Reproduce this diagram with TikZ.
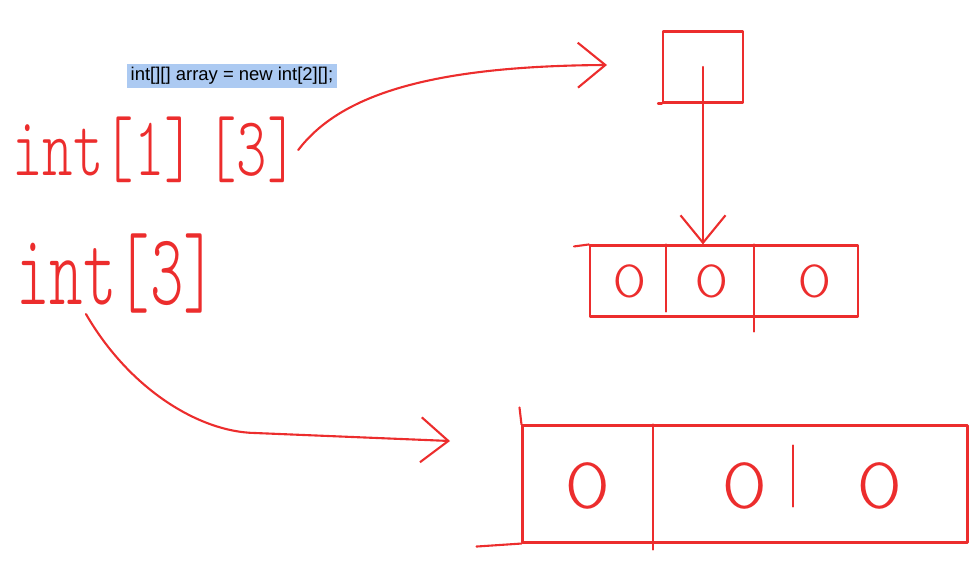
\documentclass[tikz,border=0pt]{standalone}
\usepackage{fontspec}
\usepackage{graphicx}
\usepackage{tikz}
\usetikzlibrary{positioning,calc,arrows.meta}
\newfontfamily\codefont{Liberation Sans}
\newfontfamily\penfont{Latin Modern Mono Light}
\definecolor{penred}{RGB}{236,45,45}
\definecolor{selblue}{RGB}{172,202,242}

\begin{document}
\begin{tikzpicture}[
    x=0.02cm, y=-0.02cm,
    pen/.style={draw=penred, line width=1.2pt, line cap=round, line join=round},
    barb/.style={pen, -{Straight Barb[length=0.55cm, width=0.9cm, line width=1.2pt]}},
    hand/.style={text=penred, inner sep=0pt, anchor=west, font=\penfont\fontsize{33}{33}\selectfont},
    digit/.style={text=penred, inner sep=0pt, font=\penfont\fontsize{#1}{#1}\selectfont}
]
    \useasboundingbox (0,0) rectangle (975,571);

    % code line
    \node [fill=selblue, minimum width=4.2cm, minimum height=0.48cm, inner sep=0pt,
           font=\codefont\fontsize{10.5}{12}\selectfont] (code) at (232,76) {int[][] array = new int[2][];};

    % hand written types
    \node [hand] (twoD) at (12,150) {\scalebox{1}[1.45]{int[1]\hspace{0.2em}[3]}};
    \node [hand] (oneD) at (16,274) {\scalebox{1.1}[1.75]{int[3]}};

    % reference cell
    \node [pen, minimum width=1.6cm, minimum height=1.42cm] (ref) at (703,67) {};
    \draw [pen] (ref.south west) -- +(-4,0);

    % small array
    \node [pen, minimum width=5.36cm, minimum height=1.42cm] (arrA) at (724,281) {};
    \foreach \x/\n in {630/a1, 712/a2, 815/a3}
        \node [digit=30] (\n) at (\x,281) {\scalebox{1.25}[1]{0}};
    \draw [pen] (arrA.north west) -- +(-15,2);
    \draw [pen] ([xshift=1.54cm]arrA.north west) -- ([xshift=1.54cm, yshift=0.12cm]arrA.south west);
    \draw [pen] ([xshift=3.3cm]arrA.north west) -- ([xshift=3.3cm, yshift=-0.28cm]arrA.south west);

    % big array
    \node [pen, minimum width=8.9cm, minimum height=2.34cm] (arrB) at (745,484) {};
    \foreach \x/\n in {588/b1, 745/b2, 880/b3}
        \node [digit=42] (\n) at (\x,486) {\scalebox{1.2}[1]{0}};
    \draw [pen] (arrB.north west) -- +(-2,-17);
    \draw [pen] (arrB.south west) -- +(-45,3);
    \draw [pen] ([xshift=2.63cm]arrB.north west) -- ([xshift=2.63cm, yshift=-0.12cm]arrB.south west);
    \draw [pen] ([xshift=5.43cm, yshift=-0.42cm]arrB.north west) -- ([xshift=5.43cm, yshift=0.74cm]arrB.south west);

    % pointers
    \coordinate (tipA) at (607,65);
    \coordinate (tipB) at (450,441);
    \draw [barb] (twoD.east) .. controls (340,95) and (430,66) .. (tipA);
    \draw [barb] (ref.center) -- (ref.center |- arrA.north);
    \draw [barb] ([xshift=1.4cm]oneD.south west) .. controls (130,390) and (200,432) .. (255,433) -- (tipB);
\end{tikzpicture}
\end{document}
